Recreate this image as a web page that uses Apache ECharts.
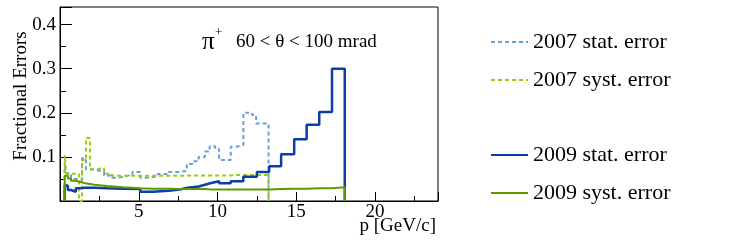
<!DOCTYPE html>
<html>
<head>
<meta charset="utf-8">
<script src="https://cdn.jsdelivr.net/npm/echarts@6/dist/echarts.min.js"></script>
<style>
html,body{margin:0;padding:0;background:#fff;}
#chart{width:747px;height:240px;}
</style>
</head>
<body>
<div id="chart"></div>
<script>
// ---- data (bin edges in GeV/c, fractional errors) ----
const edges2009 = [0.3,0.5,0.7,1.0,1.3,1.6,2.2,3.0,4.0,5.1,5.9,6.9,7.6,8.1,8.8,9.2,9.6,10.1,10.84,11.64,12.5,13.28,14.04,14.87,15.66,16.46,17.27,18.08];
const stat2009 = [0.035,0.025,0.021,0.029,0.030,0.030,0.029,0.028,0.027,0.021,0.023,0.026,0.030,0.033,0.037,0.041,0.045,0.040,0.045,0.055,0.066,0.079,0.106,0.140,0.173,0.202,0.300];
const syst2009 = [0.057,0.051,0.046,0.043,0.040,0.037,0.034,0.031,0.029,0.028,0.028,0.027,0.027,0.027,0.027,0.026,0.026,0.026,0.026,0.026,0.026,0.027,0.028,0.028,0.029,0.029,0.031];

const edges2007 = [0.3,0.4,0.7,1.2,1.4,1.65,1.9,2.3,2.8,3.3,3.8,4.2,4.6,5.1,5.6,6.2,6.85,7.6,8.05,8.4,8.8,9.2,9.5,9.85,10.1,10.84,11.2,11.64,12.2,12.45,13.24];
const stat2007 = [0.080,0.063,0.050,0.048,0.097,0.072,0.070,0.066,0.058,0.053,0.057,0.059,0.066,0.053,0.056,0.061,0.066,0.068,0.084,0.090,0.100,0.112,0.124,0.118,0.093,0.123,0.127,0.200,0.195,0.176];
const syst2007 = [0.104,0.062,0.062,0,0.093,0.143,0.072,0.075,0.062,0.057,0.057,0.057,0.057,0.057,0.057,0.057,0.057,0.057,0.058,0.058,0.058,0.058,0.058,0.058,0.058,0.059,0.059,0.059,0.059,0.059];

const xTicks = [5,10,15,20];
const yTicks = [0.1,0.2,0.3,0.4];
const seriesNames = ['2007 stat. error','2007 syst. error','2009 stat. error','2009 syst. error'];

function histPoints(edges, vals){
  const pts = [[edges[0],0]];
  for(let i=0;i<vals.length;i++){
    pts.push([edges[i],vals[i]]);
    pts.push([edges[i+1],vals[i]]);
  }
  pts.push([edges[edges.length-1],0]);
  return pts;
}

const FONT = 'Liberation Serif';
const chart = echarts.init(document.getElementById('chart'), null, {renderer:'canvas'});

function mkSeries(name, edges, vals, color, width, type){
  return {
    name: name, type:'line', data: histPoints(edges, vals),
    showSymbol:false, symbol:'none', animation:false,
    lineStyle:{color:color, width:width, type:type},
    itemStyle:{color:color},
    emphasis:{disabled:true}
  };
}

const legendText = {fontFamily:FONT, fontSize:22, color:'#000'};
const legendItem = {opacity:0, color:'rgba(0,0,0,0)', borderWidth:0};
const option = {
  animation:false,
  backgroundColor:'#fff',
  grid:{left:60, right:309, top:7, bottom:39, show:true, borderColor:'#000', borderWidth:1, backgroundColor:'transparent'},
  xAxis:{
    type:'value', min:0, max:24, interval:5,
    axisLine:{show:true, lineStyle:{color:'#000', width:1}},
    axisTick:{show:true, inside:true, length:9, lineStyle:{color:'#000'}},
    minorTick:{show:true, splitNumber:2, length:5, lineStyle:{color:'#000'}},
    splitLine:{show:false},
    axisLabel:{
      fontFamily:FONT, fontSize:19, color:'#000', margin:2,
      formatter:function(v){ return xTicks.indexOf(Math.round(v*1000)/1000)>=0 ? String(v) : ''; }
    }
  },
  yAxis:{
    type:'value', min:0, max:0.44, interval:0.1,
    axisLine:{show:true, lineStyle:{color:'#000', width:1}},
    axisTick:{show:true, inside:true, length:12, lineStyle:{color:'#000'}},
    minorTick:{show:true, splitNumber:2, length:6, lineStyle:{color:'#000'}},
    splitLine:{show:false},
    axisLabel:{
      fontFamily:FONT, fontSize:19, color:'#000', margin:4,
      formatter:function(v){ const r=Math.round(v*1000)/1000; return yTicks.indexOf(r)>=0 ? r.toFixed(1) : ''; }
    }
  },
  legend:[
    {id:'l07', data:[seriesNames[0],seriesNames[1]], orient:'vertical', left:490, top:31, padding:0,
     itemWidth:37, itemHeight:14, itemGap:16, selectedMode:false, textStyle:legendText, itemStyle:legendItem},
    {id:'l09', data:[seriesNames[2],seriesNames[3]], orient:'vertical', left:490, top:144, padding:0,
     itemWidth:37, itemHeight:14, itemGap:16, selectedMode:false, textStyle:legendText, itemStyle:legendItem}
  ],
  series:[
    mkSeries(seriesNames[0], edges2007, stat2007, '#6a9fd8', 2, [4,3]),
    mkSeries(seriesNames[1], edges2007, syst2007, '#99cc11', 2, [4,3]),
    mkSeries(seriesNames[2], edges2009, stat2009, '#0b3ea8', 2.5, 'solid'),
    mkSeries(seriesNames[3], edges2009, syst2009, '#5f9a00', 2, 'solid')
  ],
  graphic:[
    {type:'text', x:21, y:96, rotation:Math.PI/2,
     style:{text:'Fractional Errors', font:'19px "Liberation Serif"', fill:'#000', textAlign:'center', textVerticalAlign:'middle'}},
    {type:'text', x:436, y:226,
     style:{text:'p [GeV/c]', font:'19px "Liberation Serif"', fill:'#000', textAlign:'right', textVerticalAlign:'middle'}},
    {type:'text', x:202, y:42,
     style:{text:'π', font:'25px "Liberation Serif"', fill:'#000', textAlign:'left', textVerticalAlign:'middle'}},
    {type:'text', x:215, y:33,
     style:{text:'+', font:'13px "Liberation Serif"', fill:'#000', textAlign:'left', textVerticalAlign:'middle'}},
    {type:'text', x:236, y:42,
     style:{text:'60 < θ < 100 mrad', font:'19px "Liberation Serif"', fill:'#000', textAlign:'left', textVerticalAlign:'middle'}}
  ]
};
chart.setOption(option);
</script>
</body>
</html>
